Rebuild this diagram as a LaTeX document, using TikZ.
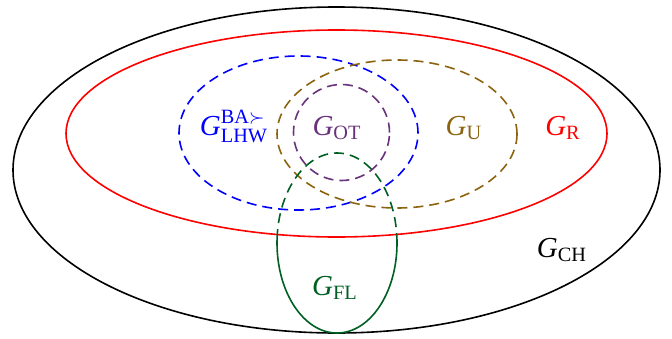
\documentclass[tikz,border=0pt]{standalone}
\usepackage{amsmath}
\usepackage{fontspec}
\setmainfont{Liberation Serif}
\definecolor{gblue}{RGB}{0,0,255}
\definecolor{gred}{RGB}{255,0,0}
\definecolor{gbrown}{RGB}{140,100,15}
\definecolor{gpurple}{RGB}{105,50,125}
\definecolor{ggreen}{RGB}{0,95,35}
\newcommand{\gname}[1]{\textit{G}_{\text{#1}}}
\begin{document}
\begin{tikzpicture}[x=0.5pt, y=0.5pt, line width=0.8pt,
    font=\fontsize{14.5}{17}\selectfont,
    classe/.style={dash pattern=on 5pt off 3pt},
    etiq/.style={anchor=base, inner sep=0pt}]
    \useasboundingbox (0,0) rectangle (672,338);

    % Graphes chordaux et reguliers
    \draw[black] (336.5,168) ellipse [x radius=323.5, y radius=163];
    \draw[gred] (336.5,204.5) ellipse [x radius=270.5, y radius=103.5];

    % Classes en pointilles
    \draw[gblue, classe] (298.5,205) ellipse [x radius=119.5, y radius=77];
    \draw[gbrown, classe] (397,204) ellipse [x radius=120, y radius=74];
    \draw[gpurple, classe] (341.5,205.5) circle [radius=48];

    % G_FL : pointille dans G_R, plein dehors
    \begin{scope}
        \clip (336.5,204.5) ellipse [x radius=270.5, y radius=103.5];
        \draw[ggreen, classe] (337,95) ellipse [x radius=60, y radius=90];
    \end{scope}
    \begin{scope}[even odd rule]
        \clip (0,0) rectangle (672,338)
            (336.5,204.5) ellipse [x radius=270.5, y radius=103.5];
        \draw[ggreen] (337,95) ellipse [x radius=60, y radius=90];
    \end{scope}

    % Etiquettes
    \node[etiq, gblue] (lhw) at (234,203) {$\gname{LHW}^{\text{BA}\succ}$};
    \node[etiq, gpurple] (ot) at (337,203) {$\gname{OT}$};
    \node[etiq, gbrown] (u) at (464,203) {$\gname{U}$};
    \node[etiq, gred] (r) at (563,203) {$\gname{R}$};
    \node[etiq, black] (ch) at (562,81) {$\gname{CH}$};
    \node[etiq, ggreen] (fl) at (335,43) {$\gname{FL}$};
\end{tikzpicture}
\end{document}
